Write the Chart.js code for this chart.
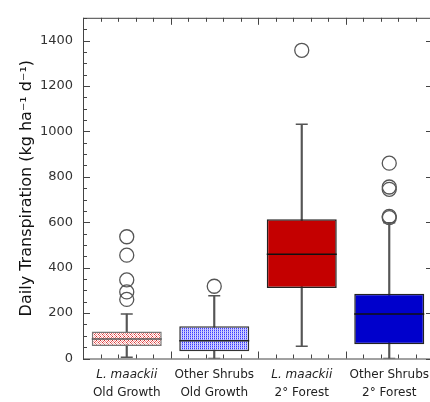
<!DOCTYPE html>
<html>
<head>
<meta charset="utf-8">
<script src="https://cdn.jsdelivr.net/npm/chart.js@4.4.0/dist/chart.umd.min.js"></script>
<style>
  body { margin: 0; overflow: hidden; background: #fff; }
  #js--chart { display: block; }
</style>
</head>
<body>
<canvas id="js--chart" width="440" height="402"></canvas>
<script>
// box plot values (kg ha-1 d-1)
const species = ["L. maackii", "Other Shrubs", "L. maackii", "Other Shrubs"];
const stands = ["Old Growth", "Old Growth", "2° Forest", "2° Forest"];
const q1 = [55, 32, 310, 63];
const q3 = [119, 142, 613, 285];
const medians = [86, 78, 459, 196];
const whiskerLow = [6, 0, 54, 0];
const whiskerHigh = [196, 276, 1031, 598];
const outliers = [
    [536, 455, 346, 293, 260],
    [318],
    [1357],
    [860, 755, 745, 626, 620],
];

const labels = species.map((s, i) => s + " " + stands[i]);

function makePattern(size, dots) {
    const c = document.createElement("canvas");
    c.width = size; c.height = size;
    const g = c.getContext("2d");
    g.fillStyle = "#fff";
    g.fillRect(0, 0, size, size);
    dots.forEach(d => { g.fillStyle = d[2]; g.fillRect(d[0], d[1], 1, 1); });
    return g.createPattern(c, "repeat");
}

const redDots = makePattern(4, [
    [0, 0, "#d42a2a"], [2, 0, "#f4b4b4"], [1, 1, "#f08a8a"], [3, 1, "#e85a5a"],
    [0, 2, "#f2a0a0"], [2, 2, "#dc3838"], [1, 3, "#f6c0c0"], [3, 3, "#e66a6a"],
]);
const blueDots = makePattern(2, [[0, 0, "#3a3aff"], [0, 1, "#9c9cff"], [1, 0, "#dcdcff"], [1, 1, "#c8c8ff"]]);

const whiskerCaps = [];
labels.forEach((l, i) => {
    whiskerCaps.push({x: l, y: whiskerLow[i]});
    whiskerCaps.push({x: l, y: whiskerHigh[i]});
});
const outlierPoints = [];
outliers.forEach((arr, i) => arr.forEach(v => outlierPoints.push({x: labels[i], y: v})));

const frame = {
    id: "frame",
    afterDatasetsDraw(chart) {
        const ctx = chart.ctx;
        const a = chart.chartArea;
        const xs = chart.scales.x, ys = chart.scales.y;
        ctx.save();
        ctx.strokeStyle = "#444";
        ctx.lineWidth = 1;
        ctx.strokeRect(a.left + 0.5, a.top + 0.5, a.right - a.left, a.bottom - a.top);
        // inward ticks on left and right
        for (let v = 0; v <= 1500; v += 50) {
            const y = Math.round(ys.getPixelForValue(v)) + 0.5;
            const major = v % 200 === 0;
            ctx.beginPath();
            ctx.moveTo(a.left, y); ctx.lineTo(a.left + (major ? 7 : 4), y);
            if (major) { ctx.moveTo(a.right, y); ctx.lineTo(a.right - 7, y); }
            ctx.stroke();
        }
        // inward ticks top and bottom, five per category
        const step = (xs.getPixelForValue(1) - xs.getPixelForValue(0)) / 5;
        const start = xs.getPixelForValue(0) - 2.5 * step;
        for (let k = 0; k <= labels.length * 5; k++) {
            const x = Math.round(start + k * step) + 0.5;
            const len = k % 5 === 0 ? 7 : 4;
            ctx.beginPath();
            ctx.moveTo(x, a.top); ctx.lineTo(x, a.top + len);
            ctx.moveTo(x, a.bottom); ctx.lineTo(x, a.bottom - len);
            ctx.stroke();
        }
        // category labels
        ctx.fillStyle = "#222";
        ctx.textAlign = "center";
        ctx.textBaseline = "middle";
        labels.forEach((l, i) => {
            const x = xs.getPixelForValue(i);
            ctx.font = (species[i].startsWith("L.") ? "italic " : "") + "12px 'DejaVu Sans'";
            ctx.fillText(species[i], x, a.bottom + 16);
            ctx.font = "12px 'DejaVu Sans'";
            ctx.fillText(stands[i], x, a.bottom + 34);
        });
        ctx.restore();
    }
};

const config = {
    type: "bar",
    data: {
        labels: labels,
        datasets: [
            {
                label: "whiskers",
                data: whiskerLow.map((l, i) => [l, whiskerHigh[i]]),
                backgroundColor: "#555",
                barThickness: 1.5,
                grouped: false,
                order: 4,
            },
            {
                label: "boxes",
                data: q1.map((v, i) => [v, q3[i]]),
                backgroundColor: [redDots, blueDots, "#c40000", "#0000cc"],
                borderColor: ["#777", "#333", "#222", "#222"],
                borderWidth: 1.5,
                borderSkipped: false,
                barPercentage: 0.8,
                categoryPercentage: 1,
                grouped: false,
                order: 3,
            },
            {
                type: "line",
                label: "caps",
                data: whiskerCaps,
                showLine: false,
                pointStyle: "line",
                pointRadius: 6,
                borderColor: "#555",
                borderWidth: 1.5,
                order: 2,
            },
            {
                type: "line",
                label: "medians",
                data: medians,
                showLine: false,
                pointStyle: "line",
                pointRadius: 35,
                borderColor: ["#555", "#222", "#111", "#111"],
                borderWidth: 1.5,
                order: 2,
            },
            {
                type: "line",
                label: "outliers",
                data: outlierPoints,
                showLine: false,
                pointStyle: "circle",
                pointRadius: 7,
                backgroundColor: "rgba(255,255,255,0)",
                borderColor: "#555",
                borderWidth: 1.3,
                clip: false,
                order: 1,
            },
        ]
    },
    options: {
        responsive: false,
        animation: false,
        layout: { autoPadding: false, padding: { top: 9, right: 7 } },
        plugins: { legend: { display: false }, tooltip: { enabled: false } },
        scales: {
            x: {
                ticks: { display: false },
                grid: { display: false },
                border: { display: false },
                afterFit: (s) => { s.height = 43.5; },
            },
            y: {
                min: 0,
                max: 1500,
                ticks: {
                    stepSize: 200,
                    includeBounds: false,
                    padding: 10,
                    color: "#333",
                    font: { family: "'DejaVu Sans'", size: 13 },
                    callback: (v) => String(v),
                },
                grid: { display: false, drawTicks: false },
                border: { display: false },
                title: {
                    display: true,
                    text: "Daily Transpiration (kg ha⁻¹ d⁻¹)",
                    color: "#111",
                    font: { family: "'DejaVu Sans'", size: 16 },
                    padding: { top: 17, bottom: 0 },
                },
                afterFit: (s) => { s.width = 83; },
            }
        }
    },
    plugins: [frame],
};

new Chart(document.getElementById("js--chart"), config);
</script>
</body>
</html>
